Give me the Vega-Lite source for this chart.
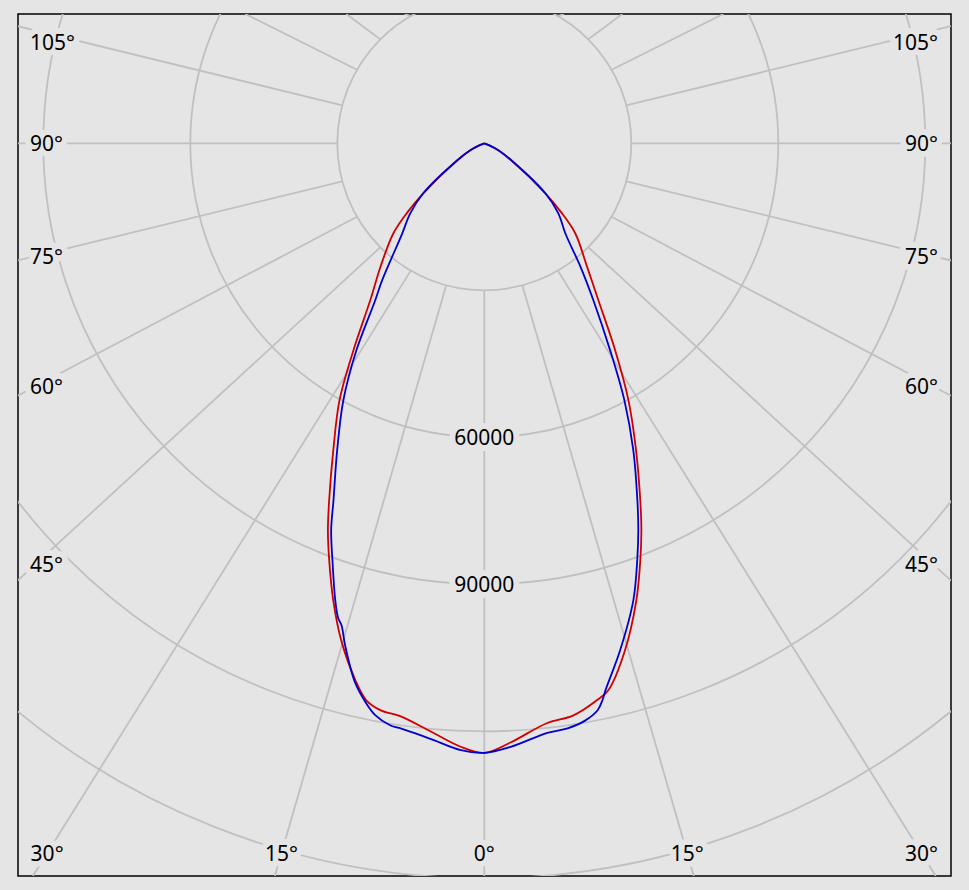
{
  "$schema": "https://vega.github.io/schema/vega-lite/v6.json",
  "width": 933,
  "height": 862,
  "autosize": "none",
  "padding": {"left": 18, "top": 14, "right": 18, "bottom": 14},
  "background": "#e5e5e5",
  "config": {"view": {"stroke": "#000000", "strokeWidth": 1.5, "fill": "#e5e5e5"}},
  "datasets": {
    "rings": [{"cd": 30000}, {"cd": 60000}, {"cd": 90000}, {"cd": 120000}, {"cd": 150000}, {"cd": 180000}],
    "ringlabels": [{"cd": 60000, "label": "60000"}, {"cd": 90000, "label": "90000"}],
    "spokes": [{"angle": -165}, {"angle": -150}, {"angle": -135}, {"angle": -120}, {"angle": -105}, {"angle": -90}, {"angle": -75}, {"angle": -60}, {"angle": -45}, {"angle": -30}, {"angle": -15}, {"angle": 0}, {"angle": 15}, {"angle": 30}, {"angle": 45}, {"angle": 60}, {"angle": 75}, {"angle": 90}, {"angle": 105}, {"angle": 120}, {"angle": 135}, {"angle": 150}, {"angle": 165}, {"angle": 180}],
    "anglelabels": [
      {"angle": -105, "label": "105°", "pos": "left"},
      {"angle": -90, "label": "90°", "pos": "left"},
      {"angle": -75, "label": "75°", "pos": "left"},
      {"angle": -60, "label": "60°", "pos": "left"},
      {"angle": -45, "label": "45°", "pos": "left"},
      {"angle": -30, "label": "30°", "pos": "bottom"},
      {"angle": -15, "label": "15°", "pos": "bottom"},
      {"angle": 0, "label": "0°", "pos": "bottom"},
      {"angle": 15, "label": "15°", "pos": "bottom"},
      {"angle": 30, "label": "30°", "pos": "bottom"},
      {"angle": 45, "label": "45°", "pos": "right"},
      {"angle": 60, "label": "60°", "pos": "right"},
      {"angle": 75, "label": "75°", "pos": "right"},
      {"angle": 90, "label": "90°", "pos": "right"},
      {"angle": 105, "label": "105°", "pos": "right"}
    ],
    "curves": [
      {"series": "red", "angle": -75, "cd": 0},
      {"series": "red", "angle": -68, "cd": 1000},
      {"series": "red", "angle": -63.4, "cd": 3200},
      {"series": "red", "angle": -57.8, "cd": 6500},
      {"series": "red", "angle": -50.7, "cd": 16100},
      {"series": "red", "angle": -48.1, "cd": 21100},
      {"series": "red", "angle": -45.3, "cd": 26100},
      {"series": "red", "angle": -40, "cd": 33000},
      {"series": "red", "angle": -36, "cd": 39600},
      {"series": "red", "angle": -32.3, "cd": 50000},
      {"series": "red", "angle": -29.4, "cd": 60200},
      {"series": "red", "angle": -26.2, "cd": 69800},
      {"series": "red", "angle": -23.5, "cd": 79400},
      {"series": "red", "angle": -22.0, "cd": 85200},
      {"series": "red", "angle": -20.4, "cd": 90800},
      {"series": "red", "angle": -18.3, "cd": 98200},
      {"series": "red", "angle": -16.05, "cd": 105600},
      {"series": "red", "angle": -13.5, "cd": 112700},
      {"series": "red", "angle": -11.96, "cd": 116200},
      {"series": "red", "angle": -10.4, "cd": 117600},
      {"series": "red", "angle": -8.3, "cd": 118200},
      {"series": "red", "angle": -5.25, "cd": 120500},
      {"series": "red", "angle": -2.3, "cd": 123200},
      {"series": "red", "angle": 0, "cd": 124400},
      {"series": "red", "angle": 2.5, "cd": 122400},
      {"series": "red", "angle": 6.2, "cd": 119000},
      {"series": "red", "angle": 8.8, "cd": 118200},
      {"series": "red", "angle": 11.5, "cd": 115900},
      {"series": "red", "angle": 12.8, "cd": 114400},
      {"series": "red", "angle": 15.5, "cd": 107400},
      {"series": "red", "angle": 18.4, "cd": 98300},
      {"series": "red", "angle": 20.5, "cd": 90900},
      {"series": "red", "angle": 22.1, "cd": 85200},
      {"series": "red", "angle": 23.6, "cd": 79500},
      {"series": "red", "angle": 26.3, "cd": 69900},
      {"series": "red", "angle": 29.3, "cd": 60100},
      {"series": "red", "angle": 32.3, "cd": 50000},
      {"series": "red", "angle": 36.0, "cd": 39600},
      {"series": "red", "angle": 39.7, "cd": 32900},
      {"series": "red", "angle": 45.3, "cd": 26100},
      {"series": "red", "angle": 48.1, "cd": 21100},
      {"series": "red", "angle": 50.7, "cd": 16100},
      {"series": "red", "angle": 57.8, "cd": 6500},
      {"series": "red", "angle": 63.4, "cd": 3200},
      {"series": "red", "angle": 68, "cd": 1000},
      {"series": "red", "angle": 75, "cd": 0},
      {"series": "blue", "angle": -75, "cd": 0},
      {"series": "blue", "angle": -68, "cd": 1000},
      {"series": "blue", "angle": -63.4, "cd": 3200},
      {"series": "blue", "angle": -57.8, "cd": 6500},
      {"series": "blue", "angle": -50.7, "cd": 16100},
      {"series": "blue", "angle": -46.6, "cd": 20800},
      {"series": "blue", "angle": -42.3, "cd": 24900},
      {"series": "blue", "angle": -36.7, "cd": 34900},
      {"series": "blue", "angle": -34.8, "cd": 39000},
      {"series": "blue", "angle": -31.7, "cd": 49700},
      {"series": "blue", "angle": -28.75, "cd": 59800},
      {"series": "blue", "angle": -25.6, "cd": 69500},
      {"series": "blue", "angle": -22.9, "cd": 79100},
      {"series": "blue", "angle": -21.6, "cd": 84900},
      {"series": "blue", "angle": -20.0, "cd": 90600},
      {"series": "blue", "angle": -18.06, "cd": 98100},
      {"series": "blue", "angle": -17.1, "cd": 101400},
      {"series": "blue", "angle": -16.5, "cd": 102600},
      {"series": "blue", "angle": -15.5, "cd": 106300},
      {"series": "blue", "angle": -13.5, "cd": 113100},
      {"series": "blue", "angle": -12.0, "cd": 116600},
      {"series": "blue", "angle": -10.8, "cd": 118800},
      {"series": "blue", "angle": -9.2, "cd": 120300},
      {"series": "blue", "angle": -8.2, "cd": 120600},
      {"series": "blue", "angle": -4.9, "cd": 122200},
      {"series": "blue", "angle": -2.3, "cd": 123900},
      {"series": "blue", "angle": 0, "cd": 124400},
      {"series": "blue", "angle": 2.5, "cd": 123300},
      {"series": "blue", "angle": 6.1, "cd": 121000},
      {"series": "blue", "angle": 8.1, "cd": 120600},
      {"series": "blue", "angle": 9.9, "cd": 119600},
      {"series": "blue", "angle": 11.3, "cd": 118000},
      {"series": "blue", "angle": 12.0, "cd": 116100},
      {"series": "blue", "angle": 12.5, "cd": 114300},
      {"series": "blue", "angle": 15.0, "cd": 107100},
      {"series": "blue", "angle": 18.06, "cd": 98100},
      {"series": "blue", "angle": 20.15, "cd": 90600},
      {"series": "blue", "angle": 21.7, "cd": 85000},
      {"series": "blue", "angle": 23.2, "cd": 79300},
      {"series": "blue", "angle": 25.9, "cd": 69600},
      {"series": "blue", "angle": 28.6, "cd": 59700},
      {"series": "blue", "angle": 31.3, "cd": 49400},
      {"series": "blue", "angle": 34.8, "cd": 39000},
      {"series": "blue", "angle": 37.9, "cd": 32000},
      {"series": "blue", "angle": 42, "cd": 24700},
      {"series": "blue", "angle": 46.6, "cd": 20800},
      {"series": "blue", "angle": 50.7, "cd": 16100},
      {"series": "blue", "angle": 57.8, "cd": 6500},
      {"series": "blue", "angle": 63.4, "cd": 3200},
      {"series": "blue", "angle": 68, "cd": 1000},
      {"series": "blue", "angle": 75, "cd": 0}
    ]
  },
  "layer": [
    {
      "data": {"name": "rings"},
      "mark": {"type": "point", "shape": "circle", "filled": false, "stroke": "#c0c0c0", "strokeWidth": 1.8, "opacity": 1, "clip": true},
      "encoding": {
        "x": {"datum": 0, "type": "quantitative", "scale": {"domain": [-95160, 95240], "nice": false, "zero": false}, "axis": null},
        "y": {"datum": 0, "type": "quantitative", "scale": {"domain": [-149530, 26390], "nice": false, "zero": false}, "axis": null},
        "size": {"field": "cd", "type": "quantitative", "scale": {"type": "pow", "exponent": 2, "domain": [0, 150000], "range": [0, 2160900], "zero": true}, "legend": null}
      }
    },
    {
      "data": {"name": "spokes"},
      "transform": [
        {"calculate": "datum.angle*PI/180", "as": "a"},
        {"calculate": "30000*sin(datum.a)", "as": "x1"},
        {"calculate": "-30000*cos(datum.a)", "as": "y1"},
        {"calculate": "min(abs(sin(datum.a))>1e-9 ? 95240/(1.067*abs(sin(datum.a))) : 1e9, cos(datum.a)>1e-9 ? 149530/cos(datum.a) : (cos(datum.a)<-1e-9 ? 26390/(-cos(datum.a)) : 1e9))", "as": "t"},
        {"calculate": "datum.t*1.067*sin(datum.a)", "as": "x2"},
        {"calculate": "-datum.t*cos(datum.a)", "as": "y2"}
      ],
      "mark": {"type": "rule", "stroke": "#c0c0c0", "strokeWidth": 1.8, "clip": true},
      "encoding": {
        "x": {"field": "x1", "type": "quantitative"},
        "y": {"field": "y1", "type": "quantitative"},
        "x2": {"field": "x2"},
        "y2": {"field": "y2"}
      }
    },
    {
      "data": {"name": "ringlabels"},
      "transform": [{"calculate": "-datum.cd", "as": "yy"}],
      "layer": [
        {"mark": {"type": "text", "font": "Noto Sans", "fontSize": 21, "align": "center", "baseline": "middle", "dy": 2, "stroke": "#e5e5e5", "strokeWidth": 12, "strokeJoin": "round", "fill": "#e5e5e5"}},
        {"mark": {"type": "text", "font": "Noto Sans", "fontSize": 21, "align": "center", "baseline": "middle", "dy": 2, "fill": "#000000"}}
      ],
      "encoding": {"x": {"datum": 0, "type": "quantitative"}, "y": {"field": "yy", "type": "quantitative"}, "text": {"field": "label"}}
    },
    {
      "data": {"name": "anglelabels"},
      "transform": [
        {"filter": "datum.pos == 'left'"},
        {"calculate": "datum.angle*PI/180", "as": "a"},
        {"calculate": "-92710", "as": "lx"},
        {"calculate": "min(-91700*cos(datum.a)/(1.067*abs(sin(datum.a))), 20670)", "as": "ly"}
      ],
      "layer": [
        {"mark": {"type": "text", "font": "Noto Sans", "fontSize": 21, "align": "left", "baseline": "middle", "dy": 2, "stroke": "#e5e5e5", "strokeWidth": 12, "strokeJoin": "round", "fill": "#e5e5e5"}},
        {"mark": {"type": "text", "font": "Noto Sans", "fontSize": 21, "align": "left", "baseline": "middle", "dy": 2, "fill": "#000000"}}
      ],
      "encoding": {"x": {"field": "lx", "type": "quantitative"}, "y": {"field": "ly", "type": "quantitative"}, "text": {"field": "label"}}
    },
    {
      "data": {"name": "anglelabels"},
      "transform": [
        {"filter": "datum.pos == 'right'"},
        {"calculate": "datum.angle*PI/180", "as": "a"},
        {"calculate": "92590", "as": "lx"},
        {"calculate": "min(-91700*cos(datum.a)/(1.067*abs(sin(datum.a))), 20670)", "as": "ly"}
      ],
      "layer": [
        {"mark": {"type": "text", "font": "Noto Sans", "fontSize": 21, "align": "right", "baseline": "middle", "dy": 2, "stroke": "#e5e5e5", "strokeWidth": 12, "strokeJoin": "round", "fill": "#e5e5e5"}},
        {"mark": {"type": "text", "font": "Noto Sans", "fontSize": 21, "align": "right", "baseline": "middle", "dy": 2, "fill": "#000000"}}
      ],
      "encoding": {"x": {"field": "lx", "type": "quantitative"}, "y": {"field": "ly", "type": "quantitative"}, "text": {"field": "label"}}
    },
    {
      "data": {"name": "anglelabels"},
      "transform": [
        {"filter": "datum.pos == 'bottom'"},
        {"calculate": "datum.angle*PI/180", "as": "a"},
        {"calculate": "144830*1.067*tan(datum.a)", "as": "lx"},
        {"calculate": "-144830", "as": "ly"}
      ],
      "layer": [
        {"mark": {"type": "text", "font": "Noto Sans", "fontSize": 21, "align": "center", "baseline": "middle", "dy": 2, "stroke": "#e5e5e5", "strokeWidth": 12, "strokeJoin": "round", "fill": "#e5e5e5"}},
        {"mark": {"type": "text", "font": "Noto Sans", "fontSize": 21, "align": "center", "baseline": "middle", "dy": 2, "fill": "#000000"}}
      ],
      "encoding": {"x": {"field": "lx", "type": "quantitative"}, "y": {"field": "ly", "type": "quantitative"}, "text": {"field": "label"}}
    },
    {
      "data": {"name": "curves"},
      "transform": [
        {"filter": "datum.series == 'red'"},
        {"calculate": "datum.cd*sin(datum.angle*PI/180)", "as": "px"},
        {"calculate": "-datum.cd*cos(datum.angle*PI/180)", "as": "py"}
      ],
      "mark": {"type": "line", "stroke": "#d00000", "strokeWidth": 1.8, "interpolate": "catmull-rom"},
      "encoding": {"x": {"field": "px", "type": "quantitative"}, "y": {"field": "py", "type": "quantitative"}, "order": {"field": "angle", "type": "quantitative"}}
    },
    {
      "data": {"name": "curves"},
      "transform": [
        {"filter": "datum.series == 'blue'"},
        {"calculate": "datum.cd*sin(datum.angle*PI/180)", "as": "px"},
        {"calculate": "-datum.cd*cos(datum.angle*PI/180)", "as": "py"}
      ],
      "mark": {"type": "line", "stroke": "#0000d0", "strokeWidth": 1.8, "interpolate": "catmull-rom"},
      "encoding": {"x": {"field": "px", "type": "quantitative"}, "y": {"field": "py", "type": "quantitative"}, "order": {"field": "angle", "type": "quantitative"}}
    }
  ]
}
